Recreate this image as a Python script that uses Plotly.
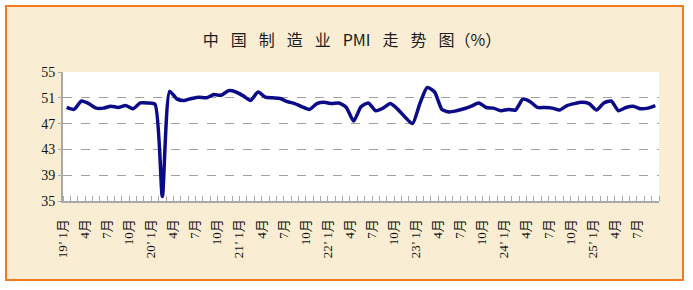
import plotly.graph_objects as go

years = ["19", "20", "21", "22", "23", "24", "25"]
months_per_year = [12, 12, 12, 12, 12, 12, 9]

pmi_values = [
    49.5, 49.2, 50.5, 50.1, 49.4, 49.4, 49.7, 49.5, 49.8, 49.3, 50.2, 50.2,
    50.0, 35.7, 52.0, 50.8, 50.6, 50.9, 51.1, 51.0, 51.5, 51.4, 52.1, 51.9,
    51.3, 50.6, 51.9, 51.1, 51.0, 50.9, 50.4, 50.1, 49.6, 49.2, 50.1, 50.3,
    50.1, 50.2, 49.5, 47.4, 49.6, 50.2, 49.0, 49.4, 50.1, 49.2, 48.0, 47.0,
    50.1, 52.6, 51.9, 49.2, 48.8, 49.0, 49.3, 49.7, 50.2, 49.5, 49.4, 49.0,
    49.2, 49.1, 50.8, 50.4, 49.5, 49.5, 49.4, 49.1, 49.8, 50.1, 50.3, 50.1,
    49.1, 50.2, 50.5, 49.0, 49.5, 49.7, 49.3, 49.4, 49.8,
]

y_ticks = [35, 39, 43, 47, 51, 55]
y_grid = [39, 43, 47, 51]

# category labels
labels = []
for yr, n in zip(years, months_per_year):
    for m in range(1, n + 1):
        labels.append(f"{yr}\u2019 1月" if m == 1 else f"{m}月")

x_idx = list(range(len(pmi_values)))
tick_pos = [i for i in x_idx if (i % 3) == 0]
tick_txt = [labels[i] for i in tick_pos]

fig = go.Figure()
fig.add_trace(go.Scatter(
    x=x_idx, y=pmi_values, mode="lines",
    line=dict(color="#0B0B88", width=3.5, shape="spline", smoothing=0.6),
    hoverinfo="skip", showlegend=False,
))

sp = "\u2002\u2005"
title = sp.join(["中", "国", "制", "造", "业", "PMI", "走", "势", "图（%）"])

W, H = 693, 290
L, R, T, B = 63, 34, 72, 89
pw, ph = W - L - R, H - T - B

def px_x(px):
    return (px - L) / pw

def px_y(py):
    return (H - B - py) / ph

fig.update_layout(
    width=W, height=H,
    margin=dict(l=L, r=R, t=T, b=B),
    paper_bgcolor="white",
    plot_bgcolor="white",
    title=dict(
        text=title, x=352 / W, xref="container", xanchor="center",
        y=1 - 40 / H, yref="container", yanchor="middle",
        font=dict(family="Noto Sans CJK SC", size=16, color="#1A1A1A"),
    ),
    shapes=[
        dict(type="rect", xref="paper", yref="paper",
             x0=px_x(6), x1=px_x(683), y0=px_y(280), y1=px_y(6),
             fillcolor="#F9EDD3", line=dict(color="#F47A20", width=2),
             layer="below"),
        dict(type="rect", xref="paper", yref="paper",
             x0=0, x1=1, y0=0, y1=1,
             fillcolor="white", line=dict(width=0), layer="below"),
    ],
)

fig.update_xaxes(
    range=[-0.5, len(pmi_values) - 0.5],
    tickmode="array", tickvals=tick_pos, ticktext=tick_txt,
    tickangle=-90, ticks="", showgrid=False, zeroline=False,
    showline=True, linecolor="#A8A8A8", linewidth=2,
    ticklabelstandoff=11, ticklabelshift=-4,
    tickfont=dict(family="Liberation Serif, Noto Sans CJK SC", size=13, color="#111111"),
    minor=dict(ticks="inside", tick0=-0.5, dtick=1, ticklen=5,
               tickcolor="#A8A8A8", tickwidth=1, showgrid=False),
)
fig.update_yaxes(
    range=[35, 55], tickmode="array", tickvals=y_ticks,
    ticks="outside", ticklen=3, tickcolor="#A8A8A8",
    showline=True, linecolor="#A8A8A8", linewidth=2,
    showgrid=False, zeroline=False,
    minor=dict(tickvals=y_grid, ticks="", showgrid=True,
               gridcolor="#A0A0A0", griddash="dash", gridwidth=1),
    tickfont=dict(family="Liberation Serif", size=14, color="#111111"),
)

fig.write_html("out.html")
